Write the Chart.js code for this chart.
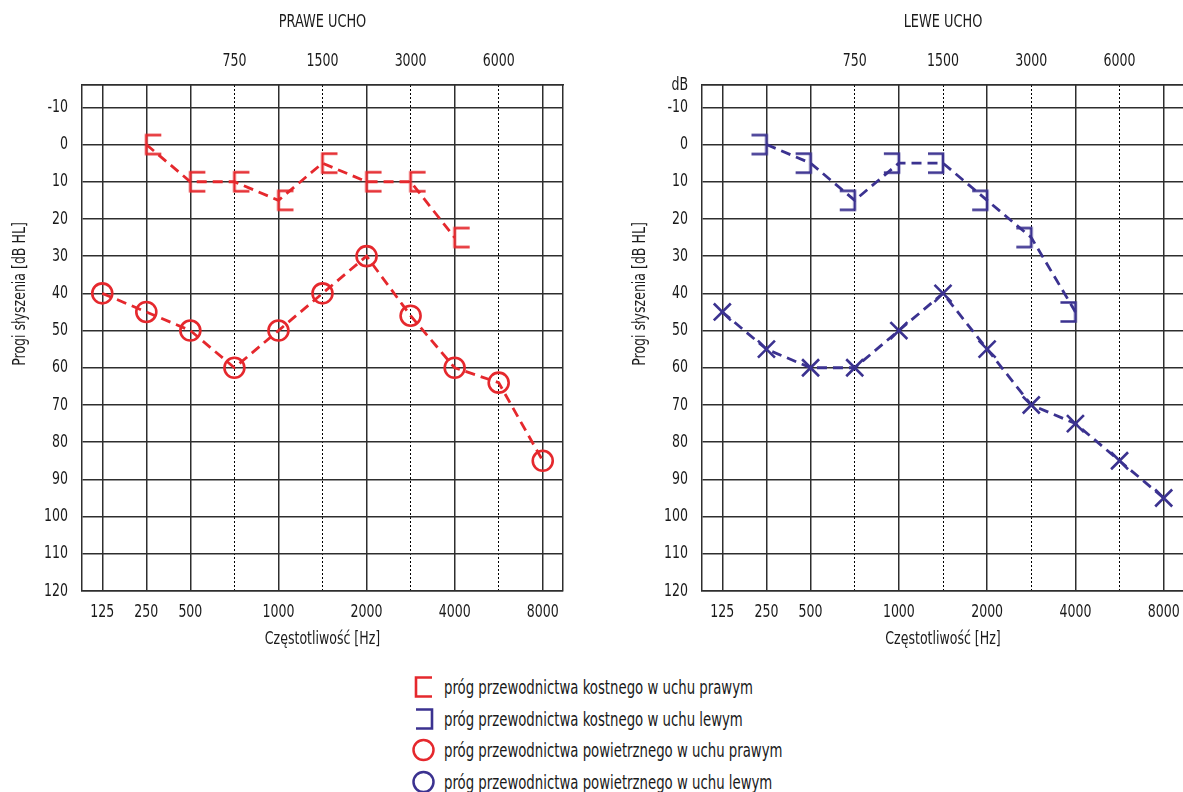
<!DOCTYPE html>
<html><head><meta charset="utf-8">
<script src="https://cdn.jsdelivr.net/npm/chart.js@4.4.1/dist/chart.umd.min.js"></script>
<style>
html,body{margin:0;padding:0;background:#fff;overflow:hidden;width:1183px;height:792px;}
body{position:relative;font-family:'Liberation Sans Narrow','DejaVu Sans Condensed',sans-serif;color:#1a1a1a;}
#cl{position:absolute;left:0;top:0;}
#cr{position:absolute;left:620px;top:0;}
#legend{position:absolute;left:410px;top:671px;font-size:19px;}
.row{height:31.7px;display:flex;align-items:center;white-space:nowrap;}
.row svg{width:30px;height:24px;margin-right:4px;flex:none;}
.row span{display:inline-block;transform:scaleX(0.777);transform-origin:left center;}
</style></head><body>
<canvas id="cl" width="590" height="660"></canvas>
<canvas id="cr" width="600" height="660"></canvas>
<div id="legend"></div>
<script>
// ---- data ----
const categories = ['125','250','500','750','1000','1500','2000','3000','4000','6000','8000'];
const bottomTickLabels = ['125','250','500','','1000','','2000','','4000','','8000'];
const topTickLabels = ['','','','750','','1500','','3000','','6000',''];
const dbTicks = [-10,0,10,20,30,40,50,60,70,80,90,100,110,120];
const rightBone = [null,0,10,10,15,5,10,10,25,null,null];
const rightAir  = [40,45,50,60,50,40,30,46,60,64,85];
const leftBone  = [null,0,5,15,5,5,15,25,45,null,null];
const leftAir   = [45,55,60,60,50,40,55,70,75,85,95];
const legendLabels = [
  'próg przewodnictwa kostnego w uchu prawym',
  'próg przewodnictwa kostnego w uchu lewym',
  'próg przewodnictwa powietrznego w uchu prawym',
  'próg przewodnictwa powietrznego w uchu lewym'
];

// ---- styling ----
const FONT = "'Liberation Sans Narrow','DejaVu Sans Condensed',sans-serif";
const TXT = '#1a1a1a';
const RED = '#e5282d';
const BLUE = '#3b3290';
const GRID = '#2e2e2e';
const SX = 0.775; // horizontal text condensing (narrow typeface look)
const X_MIN = -0.46, X_MAX = 10.46, Y_MIN = -16, Y_MAX = 120;

function bracket(color, openRight) {
  const c = document.createElement('canvas'); c.width = 36; c.height = 24;
  const g = c.getContext('2d'); g.strokeStyle = color; g.lineWidth = 2.7;
  const cx = 18, top = 2.5, bot = 21.5, arm = 15;
  const ex = openRight ? cx + arm : cx - arm;
  g.beginPath(); g.moveTo(ex, top); g.lineTo(cx, top); g.lineTo(cx, bot); g.lineTo(ex, bot); g.stroke();
  return c;
}
function toPoints(arr) {
  return arr.map((v, i) => v == null ? null : {x: i, y: v}).filter(Boolean);
}
function isDotted(i) { return i >= 0 && i < topTickLabels.length && topTickLabels[i] !== ''; }

const condensePlugin = {
  id: 'condense',
  beforeInit(chart) {
    const ctx = chart.ctx;
    const orig = ctx.fillText;
    ctx.fillText = function(t, x, y, mw) {
      this.save();
      this.translate(x, y);
      this.scale(SX, 1);
      if (mw === undefined) orig.call(this, t, 0, 0);
      else orig.call(this, t, 0, 0, mw / SX);
      this.restore();
    };
  }
};

const yTitlePlugin = {
  id: 'yTitle',
  afterDraw(chart, args, opts) {
    const ctx = chart.ctx;
    ctx.save();
    ctx.translate(opts.x, opts.y);
    ctx.rotate(-Math.PI / 2);
    ctx.font = '18px ' + FONT;
    ctx.fillStyle = TXT;
    ctx.textAlign = 'center';
    ctx.textBaseline = 'middle';
    ctx.fillText(opts.text, 0, 0);
    ctx.restore();
  }
};

function makeChart(id, title, datasets, topLabel, padRight) {
  const font = {family: FONT, size: 18};
  return new Chart(document.getElementById(id), {
    type: 'line',
    data: {datasets},
    plugins: [condensePlugin, yTitlePlugin],
    options: {
      responsive: false, animation: false, devicePixelRatio: 1, events: [],
      layout: {padding: {left: 0, right: padRight, top: 0, bottom: 0}},
      plugins: {
        legend: {display: false}, tooltip: {enabled: false},
        title: {display: true, text: title, fullSize: false, color: TXT,
                font: {family: FONT, size: 18.5, weight: 'normal'}, padding: {top: 11, bottom: 0}},
        yTitle: {text: 'Progi słyszenia [dB HL]', x: 20, y: 294}
      },
      scales: {
        x: {
          type: 'linear', position: 'bottom', min: X_MIN, max: X_MAX,
          afterBuildTicks: s => { s.ticks = categories.map((c, i) => ({value: i})).concat([{value: X_MAX}]); },
          afterFit: s => { s.height = 69; },
          ticks: {autoSkip: false, maxRotation: 0, padding: 11, font, color: TXT,
                  callback: (v, i) => bottomTickLabels[i] ?? ''},
          grid: {drawTicks: false,
                 color: c => (c.tick && isDotted(c.index)) ? '#000' : GRID,
                 lineWidth: c => (c.tick && isDotted(c.index)) ? 1 : 1.5},
          border: {color: GRID, width: 1.5,
                   dash: c => (c.tick && isDotted(c.index)) ? [2, 2] : []},
          title: {display: true, text: 'Częstotliwość [Hz]', color: TXT, font,
                  padding: {top: 0, bottom: 10}}
        },
        x2: {
          type: 'linear', position: 'top', min: X_MIN, max: X_MAX,
          afterBuildTicks: s => { s.ticks = categories.map((c, i) => ({value: i})); },
          afterFit: s => { s.height = 85 - 33.2; },
          ticks: {autoSkip: false, maxRotation: 0, padding: 13, font, color: TXT,
                  callback: (v, i) => topTickLabels[i] ?? ''},
          grid: {display: false, drawTicks: false},
          border: {color: GRID, width: 1.5}
        },
        y: {
          type: 'linear', reverse: true, min: Y_MIN, max: Y_MAX,
          afterBuildTicks: s => { s.ticks = [{value: Y_MIN}].concat(dbTicks.map(v => ({value: v}))); },
          afterFit: s => { s.width = 82; },
          ticks: {autoSkip: false, padding: 14, font, color: TXT,
                  callback: v => v === Y_MIN ? topLabel : String(v)},
          grid: {drawTicks: false, color: GRID, lineWidth: 1.5},
          border: {color: GRID, width: 1.5}
        }
      }
    }
  });
}

function lineDs(data, color, pointStyle, radius) {
  return {
    data: toPoints(data), borderColor: color, borderWidth: 2.8, borderDash: [10, 6],
    tension: 0, fill: false, pointStyle, pointRadius: radius,
    pointBorderColor: color, pointBackgroundColor: 'rgba(0,0,0,0)', pointBorderWidth: 2.6
  };
}

makeChart('cl', 'PRAWE UCHO', [
  lineDs(rightBone, RED, bracket(RED, true), 8),
  lineDs(rightAir, RED, 'circle', 10)
], '', 27);

makeChart('cr', 'LEWE UCHO', [
  lineDs(leftBone, BLUE, bracket(BLUE, false), 8),
  lineDs(leftAir, BLUE, 'crossRot', 12)
], 'dB', 36);

// ---- legend ----
const icons = [
  `<path d="M22 2.5 H6 V21.5 H22" fill="none" stroke="${RED}" stroke-width="2.6"/>`,
  `<path d="M6 2.5 H22 V21.5 H6" fill="none" stroke="${BLUE}" stroke-width="2.6"/>`,
  `<circle cx="13.5" cy="12" r="10" fill="none" stroke="${RED}" stroke-width="2.5"/>`,
  `<circle cx="13.5" cy="12" r="10" fill="none" stroke="${BLUE}" stroke-width="2.5"/>`
];
const lg = document.getElementById('legend');
legendLabels.forEach((t, i) => {
  const r = document.createElement('div'); r.className = 'row';
  r.innerHTML = `<svg viewBox="0 0 30 24">${icons[i]}</svg><span></span>`;
  r.querySelector('span').textContent = t;
  lg.appendChild(r);
});
</script>
</body></html>
